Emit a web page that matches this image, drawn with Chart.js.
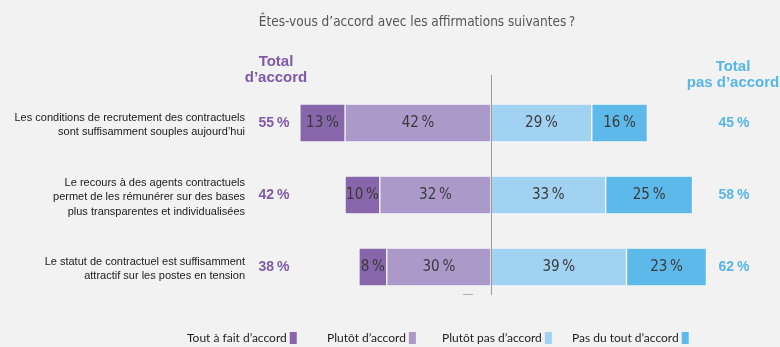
<!DOCTYPE html>
<html>
<head>
<meta charset="utf-8">
<script src="https://cdn.jsdelivr.net/npm/chart.js@4"></script>
<style>
  body { margin: 0; background: #f2f2f2; }
  #wrap { width: 780px; height: 347px; position: relative; }
</style>
</head>
<body>
<div id="wrap"><canvas id="chart"></canvas></div>
<script>
var categories = [
    ['Les conditions de recrutement des contractuels', 'sont suffisamment souples aujourd\u2019hui'],
    ['Le recours \u00e0 des agents contractuels', 'permet de les r\u00e9mun\u00e9rer sur des bases', 'plus transparentes et individualis\u00e9es'],
    ['Le statut de contractuel est suffisamment', 'attractif sur les postes en tension']
];
var toutAFait = [13, 10, 8];
var plutotAccord = [42, 32, 30];
var plutotPas = [29, 33, 39];
var pasDuTout = [16, 25, 23];
var totalAccord = [55, 42, 38];
var totalPas = [45, 58, 62];

var legendLabels = ['Tout \u00e0 fait d\u2019accord', 'Plut\u00f4t d\u2019accord', 'Plut\u00f4t pas d\u2019accord', 'Pas du tout d\u2019accord'];
var colors = ['#8766ac', '#ab99ca', '#a1d2f1', '#5db9ea'];

var purple = '#7e5aa8';
var blue = '#58b6e7';
var font = '"Liberation Sans", Arial, sans-serif';
var legendFont = 'Lato, "Liberation Sans", sans-serif';
var narrow = '"DejaVu Sans Condensed", sans-serif';

function pct(v) { return v + '\u202f%'; }

var textPlugin = {
    id: 'textPlugin',
    afterDatasetsDraw: function (chart) {
        var ctx = chart.ctx;
        var x0 = chart.scales.x.getPixelForValue(0);
        // center line
        ctx.save();
        ctx.strokeStyle = '#9a9a9a';
        ctx.lineWidth = 1;
        ctx.beginPath();
        ctx.moveTo(Math.round(x0) + 0.5, 75);
        ctx.lineTo(Math.round(x0) + 0.5, 295);
        ctx.stroke();
        // small dash below the bars
        ctx.strokeStyle = '#b0b0b0';
        ctx.beginPath();
        ctx.moveTo(463, 294.5);
        ctx.lineTo(473, 294.5);
        ctx.stroke();

        // segment labels
        ctx.fillStyle = '#3a3a3a';
        ctx.font = '15px ' + narrow;
        ctx.textAlign = 'center';
        ctx.textBaseline = 'middle';
        chart.data.datasets.forEach(function (ds, i) {
            chart.getDatasetMeta(i).data.forEach(function (bar, j) {
                ctx.fillText(pct(Math.abs(ds.data[j])), (bar.x + bar.base) / 2, bar.y);
            });
        });
        ctx.restore();
    },
    afterDraw: function (chart) {
        var ctx = chart.ctx;
        var yScale = chart.scales.y;
        ctx.save();
        ctx.textBaseline = 'middle';

        // title
        ctx.fillStyle = '#555';
        ctx.font = '13.5px ' + narrow;
        ctx.textAlign = 'center';
        ctx.fillText('\u00cates-vous d\u2019accord avec les affirmations suivantes\u202f?', 417, 22);

        // column headers
        ctx.font = 'bold 15px ' + font;
        ctx.fillStyle = purple;
        ctx.fillText('Total', 276, 62);
        ctx.fillText('d\u2019accord', 276, 78);
        ctx.fillStyle = blue;
        ctx.fillText('Total', 733, 67);
        ctx.fillText('pas d\u2019accord', 733, 83);

        categories.forEach(function (lines, i) {
            var yc = yScale.getPixelForValue(i);
            ctx.font = '11px ' + font;
            ctx.fillStyle = '#1a1a1a';
            ctx.textAlign = 'right';
            var lh = 14.5;
            var start = yc + 2 - (lines.length - 1) * lh / 2;
            lines.forEach(function (t, k) { ctx.fillText(t, 245, start + k * lh); });

            ctx.font = 'bold 14px ' + font;
            ctx.textAlign = 'center';
            ctx.fillStyle = purple;
            ctx.fillText(pct(totalAccord[i]), 274, yc);
            ctx.fillStyle = blue;
            ctx.fillText(pct(totalPas[i]), 734, yc);
        });

        // legend: text then swatch
        var legX = [187, 327, 442, 572];
        ctx.font = '12px ' + legendFont;
        ctx.textAlign = 'left';
        legendLabels.forEach(function (t, i) {
            ctx.fillStyle = '#1e1e1e';
            ctx.fillText(t, legX[i], 338);
            var w = ctx.measureText(t).width;
            ctx.fillStyle = colors[i];
            ctx.fillRect(legX[i] + w + 3, 332, 7, 12);
        });
        ctx.restore();
    }
};

var ctx = document.getElementById('chart').getContext('2d');
new Chart(ctx, {
    type: 'bar',
    data: {
        labels: categories,
        datasets: [
            { label: legendLabels[1], data: plutotAccord.map(function (v) { return -v; }), backgroundColor: colors[1] },
            { label: legendLabels[0], data: toutAFait.map(function (v) { return -v; }), backgroundColor: colors[0] },
            { label: legendLabels[2], data: plutotPas, backgroundColor: colors[2] },
            { label: legendLabels[3], data: pasDuTout, backgroundColor: colors[3] }
        ]
    },
    options: {
        indexAxis: 'y',
        responsive: true,
        maintainAspectRatio: false,
        animation: false,
        datasets: {
            bar: { barThickness: 38, borderWidth: 1, borderColor: 'rgba(255,255,255,0.5)', borderSkipped: false }
        },
        layout: { padding: { left: 213, right: 11, top: 87, bottom: 44 } },
        scales: {
            x: { stacked: true, min: -80, max: 80, display: false },
            y: { stacked: true, display: false }
        },
        plugins: {
            legend: { display: false },
            tooltip: { enabled: false }
        }
    },
    plugins: [textPlugin]
});
</script>
</body>
</html>
